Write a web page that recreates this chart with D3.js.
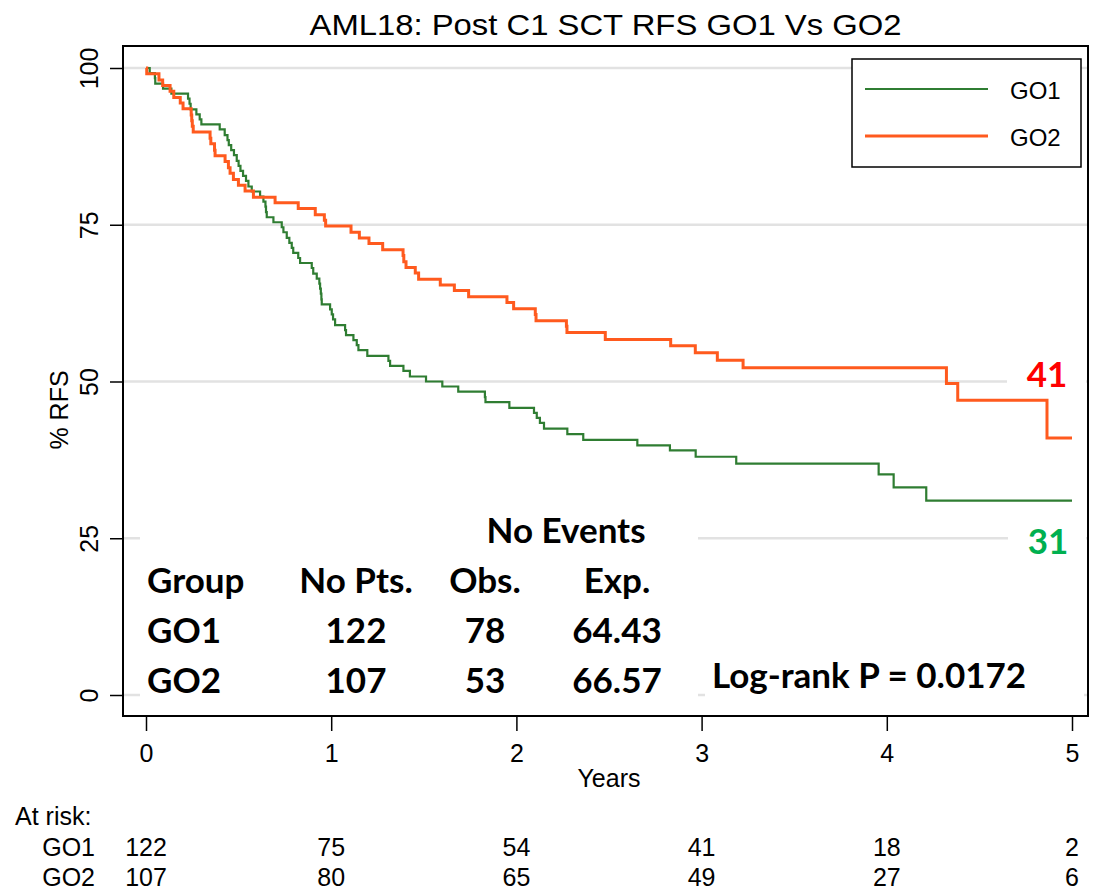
<!DOCTYPE html>
<html>
<head>
<meta charset="utf-8">
<script src="https://cdn.jsdelivr.net/npm/d3@7"></script>
<style>
  html, body { margin: 0; padding: 0; background: #fff; }
  svg { display: block; }
</style>
</head>
<body>
<script>
// ---- Data -----------------------------------------------------------------
const yearTicks = [0, 1, 2, 3, 4, 5];
const pctTicks = [0, 25, 50, 75, 100];
const groups = ["GO1", "GO2"];

// Kaplan-Meier step points (years, % relapse-free)
const go1Times = [0, 0.02, 0.048, 0.05, 0.092, 0.137, 0.227, 0.235, 0.241, 0.272, 0.29, 0.299,
  0.398, 0.425, 0.44, 0.447, 0.46, 0.475, 0.49, 0.5, 0.51, 0.524, 0.54, 0.553, 0.571, 0.616,
  0.634, 0.645, 0.648, 0.652, 0.688, 0.733, 0.742, 0.76, 0.774, 0.787, 0.795, 0.822, 0.832,
  0.895, 0.903, 0.922, 0.936, 0.94, 0.944, 0.947, 0.949, 0.994, 1.003, 1.01, 1.021, 1.075,
  1.08, 1.12, 1.138, 1.147, 1.195, 1.309, 1.318, 1.39, 1.425, 1.512, 1.6, 1.686, 1.83, 1.833,
  1.962, 2.095, 2.11, 2.127, 2.149, 2.275, 2.361, 2.653, 2.829, 2.968, 3.187, 3.956, 4.037,
  4.213, 5.0];
const go1Surv = [100, 99.2, 98.4, 97.5, 96.7, 95.9, 95.1, 94.3, 93.4, 92.6, 91.8, 91.0,
  90.2, 89.3, 88.5, 87.7, 86.9, 86.1, 85.2, 84.4, 83.6, 82.8, 82.0, 81.1, 80.3, 79.5,
  78.7, 77.9, 77.0, 76.2, 75.4, 74.6, 73.8, 72.9, 72.1, 71.3, 70.5, 69.7, 68.9,
  68.1, 67.2, 66.4, 65.6, 64.8, 64.0, 63.1, 62.3, 61.5, 60.7, 59.9, 59.0, 58.2,
  57.4, 56.6, 55.8, 55.0, 54.1, 53.3, 52.5, 51.7, 50.8, 50.0, 49.2, 48.4, 47.5, 46.7,
  45.8, 45.0, 44.2, 43.4, 42.5, 41.6, 40.7, 39.8, 39.0, 38.0, 36.9, 35.2, 33.1,
  31.0, 31.0];

const go2Times = [0, 0.004, 0.07, 0.09, 0.13, 0.15, 0.185, 0.2, 0.244, 0.247, 0.25, 0.255,
  0.346, 0.35, 0.37, 0.373, 0.427, 0.445, 0.454, 0.472, 0.499, 0.535, 0.58, 0.697, 0.822,
  0.914, 0.963, 0.97, 1.107, 1.152, 1.204, 1.278, 1.388, 1.392, 1.404, 1.454, 1.472, 1.589,
  1.665, 1.742, 1.949, 1.985, 2.102, 2.106, 2.27, 2.273, 2.48, 2.833, 2.966, 3.085, 3.224,
  4.322, 4.383, 4.865, 5.0];
const go2Surv = [100, 99.1, 98.1, 97.2, 96.3, 95.3, 94.4, 93.5, 92.5, 91.6, 90.7, 89.8,
  88.8, 87.9, 86.9, 86.0, 85.1, 84.1, 83.2, 82.2, 81.3, 80.4, 79.4, 78.5, 77.6,
  76.6, 75.7, 74.8, 73.8, 72.9, 72.0, 71.0, 70.1, 69.1, 68.2, 67.3, 66.3, 65.4,
  64.5, 63.5, 62.6, 61.6, 60.7, 59.7, 58.8, 57.8, 56.7, 55.7, 54.6, 53.4, 52.2,
  49.7, 47.0, 41.0, 41.0];

const atRiskGO1 = [122, 75, 54, 41, 18, 2];
const atRiskGO2 = [107, 80, 65, 49, 27, 6];

const tableHeader = ["Group", "No Pts.", "Obs.", "Exp."];
const tableGO1 = ["GO1", "122", "78", "64.43"];
const tableGO2 = ["GO2", "107", "53", "66.57"];
const logRankP = "0.0172";

// ---- Layout ---------------------------------------------------------------
const W = 1093, H = 892;
const frame = { x0: 123, y0: 46, x1: 1088, y1: 716 };
const colors = { go1: "#2f7d32", go2: "#ff5a1e", grid: "#e2e2e2" };
const sans = "'Liberation Sans', Arial, Helvetica, sans-serif";
const bold = "Lato, 'Open Sans', 'Liberation Sans', sans-serif";
const boldSize = 35;
const axisSize = 25;

const x = d3.scaleLinear().domain([0, 5]).range([146, 1072]);
const y = d3.scaleLinear().domain([0, 100]).range([695, 68]);

const svg = d3.select("body").append("svg")
  .attr("width", W).attr("height", H)
  .attr("viewBox", `0 0 ${W} ${H}`);

svg.append("rect").attr("width", W).attr("height", H).attr("fill", "#fff");

// title
svg.append("text")
  .attr("x", (frame.x0 + frame.x1) / 2).attr("y", 35)
  .attr("text-anchor", "middle")
  .attr("font-family", sans).attr("font-size", 29)
  .attr("textLength", 592).attr("lengthAdjust", "spacingAndGlyphs")
  .text("AML18: Post C1 SCT RFS GO1 Vs GO2");

// horizontal grid
svg.append("g").selectAll("line").data(pctTicks).join("line")
  .attr("x1", frame.x0).attr("x2", frame.x1)
  .attr("y1", d => y(d)).attr("y2", d => y(d))
  .attr("stroke", colors.grid).attr("stroke-width", 2.5);

// white text panels sitting over the grid
const panels = [
  { x: 140, y: 508, w: 558, h: 200 },   // events table
  { x: 705, y: 652, w: 379, h: 56 },    // log-rank
  { x: 1007, y: 355, w: 79, h: 45 },    // GO2 end label
  { x: 1008, y: 522, w: 78, h: 45 }     // GO1 end label
];
svg.append("g").selectAll("rect").data(panels).join("rect")
  .attr("x", d => d.x).attr("y", d => d.y)
  .attr("width", d => d.w).attr("height", d => d.h)
  .attr("fill", "#fff");

// survival curves
const line = d3.line()
  .x(d => x(d[0])).y(d => y(d[1]))
  .curve(d3.curveStepAfter);

const series = [
  { name: groups[0], pts: d3.zip(go1Times, go1Surv), color: colors.go1, width: 2.2 },
  { name: groups[1], pts: d3.zip(go2Times, go2Surv), color: colors.go2, width: 3 }
];
svg.append("g").selectAll("path").data(series).join("path")
  .attr("d", d => line(d.pts))
  .attr("fill", "none")
  .attr("stroke", d => d.color)
  .attr("stroke-width", d => d.width)
  .attr("stroke-linejoin", "miter");

// frame
svg.append("rect")
  .attr("x", frame.x0).attr("y", frame.y0)
  .attr("width", frame.x1 - frame.x0).attr("height", frame.y1 - frame.y0)
  .attr("fill", "none").attr("stroke", "#000").attr("stroke-width", 2);

// y axis
const yAxis = svg.append("g")
  .attr("transform", `translate(${frame.x0},0)`)
  .call(d3.axisLeft(y).tickValues(pctTicks).tickSize(13).tickPadding(12));
yAxis.select(".domain").remove();
yAxis.selectAll(".tick line").attr("stroke", "#000").attr("stroke-width", 1.5);
yAxis.selectAll(".tick text")
  .attr("font-family", sans).attr("font-size", axisSize).attr("fill", "#000")
  .attr("text-anchor", "middle")
  .attr("x", 0).attr("y", -25).attr("dy", 0)
  .attr("transform", "rotate(-90)");

svg.append("text")
  .attr("transform", "translate(68,410) rotate(-90)")
  .attr("text-anchor", "middle")
  .attr("font-family", sans).attr("font-size", axisSize)
  .text("% RFS");

// x axis
const xAxis = svg.append("g")
  .attr("transform", `translate(0,${frame.y1})`)
  .call(d3.axisBottom(x).tickValues(yearTicks).tickSize(15).tickFormat(d3.format("d")));
xAxis.select(".domain").remove();
xAxis.selectAll(".tick line").attr("stroke", "#000").attr("stroke-width", 1.5);
xAxis.selectAll(".tick text")
  .attr("font-family", sans).attr("font-size", axisSize).attr("fill", "#000")
  .attr("y", 46).attr("dy", 0);

svg.append("text")
  .attr("x", x(2.5)).attr("y", 787)
  .attr("text-anchor", "middle")
  .attr("font-family", sans).attr("font-size", axisSize)
  .text("Years");

// numbers at risk
svg.append("text")
  .attr("x", 15).attr("y", 825)
  .attr("font-family", sans).attr("font-size", axisSize)
  .text("At risk:");

const riskRows = [
  { name: groups[0], vals: atRiskGO1, yb: 856 },
  { name: groups[1], vals: atRiskGO2, yb: 886 }
];
riskRows.forEach(r => {
  svg.append("text")
    .attr("x", 95).attr("y", r.yb).attr("text-anchor", "end")
    .attr("font-family", sans).attr("font-size", axisSize)
    .text(r.name);
  svg.append("g").selectAll("text").data(r.vals).join("text")
    .attr("x", (d, i) => x(yearTicks[i])).attr("y", r.yb)
    .attr("text-anchor", "middle")
    .attr("font-family", sans).attr("font-size", axisSize)
    .text(d => d);
});

// legend
const lg = svg.append("g");
lg.append("rect")
  .attr("x", 852).attr("y", 59).attr("width", 229).attr("height", 108)
  .attr("fill", "#fff").attr("stroke", "#000").attr("stroke-width", 1.5);
series.forEach((s, i) => {
  const ly = 89 + i * 47;
  lg.append("line")
    .attr("x1", 865).attr("x2", 988).attr("y1", ly).attr("y2", ly)
    .attr("stroke", s.color).attr("stroke-width", s.width);
  lg.append("text")
    .attr("x", 1010).attr("y", ly + 9.5)
    .attr("font-family", sans).attr("font-size", 24)
    .text(s.name);
});

// events table
const tb = svg.append("g")
  .attr("font-family", bold).attr("font-weight", 700).attr("font-size", boldSize).attr("fill", "#000");
tb.append("text").attr("x", 566).attr("y", 543).attr("text-anchor", "middle").text("No Events");
const colX = [147, 356, 485, 617];
[tableHeader, tableGO1, tableGO2].forEach((row, r) => {
  row.forEach((cell, c) => {
    tb.append("text")
      .attr("x", colX[c]).attr("y", 593 + r * 50)
      .attr("text-anchor", c === 0 ? "start" : "middle")
      .text(cell);
  });
});
tb.append("text").attr("x", 712).attr("y", 688).text(`Log-rank P = ${logRankP}`);

// end-of-follow-up values
const endLabels = [
  { v: go2Surv[go2Surv.length - 1], color: "#ff0000", x: 1047, yb: 387 },
  { v: go1Surv[go1Surv.length - 1], color: "#00b050", x: 1048, yb: 554 }
];
svg.append("g").selectAll("text").data(endLabels).join("text")
  .attr("x", d => d.x).attr("y", d => d.yb)
  .attr("text-anchor", "middle")
  .attr("font-family", bold).attr("font-weight", 700).attr("font-size", boldSize)
  .attr("fill", d => d.color)
  .text(d => d3.format("d")(d.v));
</script>
</body>
</html>
